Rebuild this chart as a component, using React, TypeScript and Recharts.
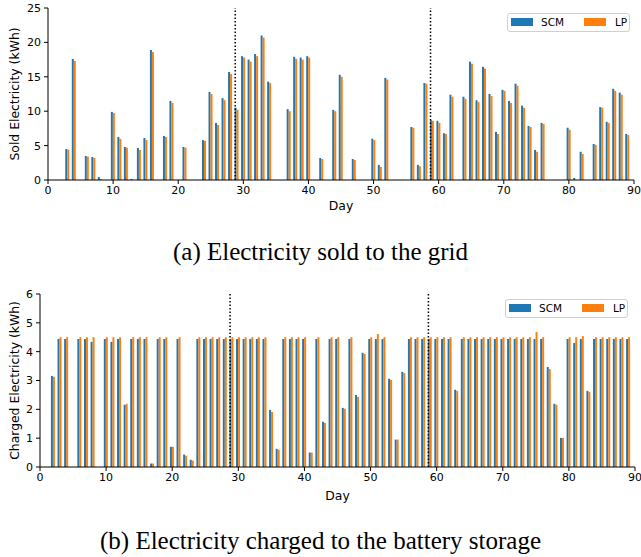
import React from "react";
import {
  BarChart,
  Bar,
  XAxis,
  YAxis,
  ReferenceLine,
} from "recharts";

// days 0..89
const days = [
  0, 1, 2, 3, 4, 5, 6, 7, 8, 9,
  10, 11, 12, 13, 14, 15, 16, 17, 18, 19,
  20, 21, 22, 23, 24, 25, 26, 27, 28, 29,
  30, 31, 32, 33, 34, 35, 36, 37, 38, 39,
  40, 41, 42, 43, 44, 45, 46, 47, 48, 49,
  50, 51, 52, 53, 54, 55, 56, 57, 58, 59,
  60, 61, 62, 63, 64, 65, 66, 67, 68, 69,
  70, 71, 72, 73, 74, 75, 76, 77, 78, 79,
  80, 81, 82, 83, 84, 85, 86, 87, 88, 89,
];

const soldSCM = [
  0, 0, 0, 4.5, 17.6, 0, 3.5, 3.35, 0.44, 0,
  9.9, 6.26, 4.8, 0.15, 4.66, 6.1, 18.9, 0, 6.4, 11.5,
  0, 4.8, 0, 0, 5.8, 12.8, 8.3, 11.9, 15.7, 10.5,
  18.0, 17.5, 18.3, 21.0, 14.3, 0, 0, 10.3, 17.9, 17.8,
  18.0, 0, 3.2, 0, 10.2, 15.3, 0, 3.05, 0, 0,
  6.0, 2.2, 14.85, 0, 0, 0, 7.7, 2.2, 14.1, 8.7,
  8.6, 6.8, 12.4, 0, 12.1, 17.2, 11.6, 16.45, 12.5, 7.0,
  13.1, 11.5, 14.0, 10.8, 7.86, 4.37, 8.3, 0, 0, 0,
  7.6, 0.3, 4.1, 0, 5.24, 10.6, 8.45, 13.25, 12.7, 6.7,
];

const soldLP = [
  0, 0, 0, 4.4, 17.3, 0, 3.4, 3.2, 0.15, 0,
  9.75, 5.97, 4.7, 0, 4.37, 5.8, 18.6, 0, 6.26, 11.2,
  0, 4.7, 0, 0, 5.7, 12.5, 8.0, 11.6, 15.4, 10.2,
  17.8, 17.2, 18.0, 20.7, 14.1, 0, 0, 10.0, 17.6, 17.5,
  17.8, 0, 3.05, 0, 10.0, 15.0, 0, 2.9, 0, 0,
  5.8, 1.9, 14.6, 0, 0, 0, 7.6, 2.0, 14.0, 8.6,
  8.3, 6.7, 12.1, 0, 11.8, 16.9, 11.35, 16.2, 12.2, 6.7,
  12.95, 11.2, 13.7, 10.5, 7.7, 4.1, 8.15, 0, 0, 0,
  7.3, 0, 3.8, 0, 5.1, 10.5, 8.3, 12.95, 12.4, 6.55,
];

const chargedSCM = [
  0, 0, 3.16, 4.44, 4.44, 0, 4.44, 4.44, 4.34, 0,
  4.44, 4.34, 4.44, 2.16, 4.44, 4.44, 4.44, 0.12, 4.44, 4.44,
  0.7, 4.44, 0.43, 0.25, 4.44, 4.44, 4.44, 4.44, 4.44, 4.44,
  4.44, 4.44, 4.44, 4.44, 4.44, 1.98, 0.63, 4.44, 4.44, 4.44,
  4.44, 0.5, 4.44, 1.57, 4.44, 4.44, 2.05, 4.44, 2.5, 3.96,
  4.44, 4.44, 4.44, 3.06, 0.95, 3.3, 4.44, 4.44, 4.44, 4.44,
  4.44, 4.44, 4.44, 2.68, 4.44, 4.44, 4.44, 4.44, 4.44, 4.44,
  4.44, 4.44, 4.44, 4.44, 4.44, 4.44, 4.44, 3.47, 2.19, 1.01,
  4.44, 4.3, 4.44, 2.64, 4.44, 4.44, 4.44, 4.44, 4.44, 4.44,
];

const chargedLP = [
  0, 0, 3.13, 4.5, 4.5, 0, 4.5, 4.5, 4.5, 0,
  4.5, 4.5, 4.5, 2.19, 4.5, 4.5, 4.5, 0.12, 4.5, 4.5,
  0.7, 4.5, 0.39, 0.22, 4.5, 4.5, 4.5, 4.5, 4.5, 4.5,
  4.5, 4.5, 4.5, 4.5, 4.5, 1.91, 0.6, 4.5, 4.5, 4.5,
  4.5, 0.5, 4.5, 1.53, 4.5, 4.5, 2.02, 4.5, 2.43, 3.92,
  4.5, 4.61, 4.5, 3.02, 0.95, 3.26, 4.5, 4.5, 4.5, 4.5,
  4.5, 4.5, 4.5, 2.64, 4.5, 4.5, 4.5, 4.5, 4.5, 4.5,
  4.5, 4.5, 4.5, 4.5, 4.5, 4.68, 4.5, 3.4, 2.16, 1.01,
  4.5, 4.5, 4.54, 2.6, 4.5, 4.5, 4.5, 4.5, 4.5, 4.5,
];

const xTicks = [0, 10, 20, 30, 40, 50, 60, 70, 80, 90];
const soldTicks = [0, 5, 10, 15, 20, 25];
const chargedTicks = [0, 1, 2, 3, 4, 5, 6];
const splitDays = [28.75, 58.75];

const soldData = days.map((d, i) => ({ day: d, scm: soldSCM[i], lp: soldLP[i] }));
const chargedData = days.map((d, i) => ({ day: d, scm: chargedSCM[i], lp: chargedLP[i] }));

const BLUE = "#1f77b4";
const ORANGE = "#ff7f0e";
const FONT = "DejaVu Sans";
const tickStyle = { fill: "#000", fontSize: 11, fontFamily: FONT };
const labelStyle = { fill: "#000", fontSize: 12.4, fontFamily: FONT };

function LegendBox({ top, left }: { top: number; left: number }) {
  return (
    <div
      style={{
        position: "absolute",
        top,
        left,
        width: 123,
        height: 19,
        border: "1px solid #d0d0d0",
        borderRadius: 3,
        background: "rgba(255,255,255,0.8)",
        fontFamily: FONT,
        fontSize: 10.5,
        color: "#000",
        boxSizing: "border-box",
      }}
    >
      <span style={{ position: "absolute", left: 3, top: 4, width: 22, height: 8, background: BLUE }} />
      <span style={{ position: "absolute", left: 33, top: 2, lineHeight: "13px" }}>SCM</span>
      <span style={{ position: "absolute", left: 76, top: 4, width: 22, height: 8, background: ORANGE }} />
      <span style={{ position: "absolute", left: 107, top: 2, lineHeight: "13px" }}>LP</span>
    </div>
  );
}

function Panel({
  data,
  ticks,
  max,
  yLabel,
  width,
  height,
  margin,
  yWidth,
  dayOffset,
}: {
  data: any[];
  ticks: number[];
  max: number;
  yLabel: string;
  width: number;
  height: number;
  margin: any;
  yWidth: number;
  dayOffset: number;
}) {
  return (
    <BarChart width={width} height={height} data={data} margin={margin} barGap={0}>
      <XAxis
        dataKey="day"
        type="number"
        domain={[0, 90]}
        ticks={xTicks}
        allowDataOverflow
        height={25}
        tickSize={4}
        tickMargin={2}
        tick={tickStyle}
        axisLine={{ stroke: "#000", strokeWidth: 1 }}
        tickLine={{ stroke: "#000" }}
        label={{
          value: "Day",
          position: "bottom",
          offset: dayOffset,
          fontSize: 12.4,
          fontFamily: FONT,
          fill: "#000",
          style: labelStyle,
        }}
      />
      <XAxis
        xAxisId="top"
        orientation="top"
        type="number"
        domain={[0, 90]}
        height={0}
        tick={false}
        tickLine={false}
        axisLine={{ stroke: "#333", strokeWidth: 1 }}
      />
      <YAxis
        type="number"
        domain={[0, max]}
        ticks={ticks}
        width={yWidth}
        tickSize={4}
        tickMargin={3}
        tick={tickStyle}
        axisLine={{ stroke: "#000", strokeWidth: 1 }}
        tickLine={{ stroke: "#000" }}
        label={{
          value: yLabel,
          angle: -90,
          position: "insideLeft",
          offset: 15,
          fontSize: 12.4,
          fontFamily: FONT,
          fill: "#000",
          style: { ...labelStyle, textAnchor: "middle" },
        }}
      />
      <YAxis
        yAxisId="right"
        orientation="right"
        domain={[0, 1]}
        width={0}
        tick={false}
        tickLine={false}
        axisLine={{ stroke: "#333", strokeWidth: 1 }}
      />
      {splitDays.map((d) => (
        <ReferenceLine key={d} x={d} stroke="#000" strokeWidth={1.5} strokeDasharray="1.5 2" />
      ))}
      <Bar dataKey="scm" fill={BLUE} barSize={2} isAnimationActive={false} />
      <Bar dataKey="lp" fill={ORANGE} barSize={2} isAnimationActive={false} />
    </BarChart>
  );
}

const captionStyle: React.CSSProperties = {
  position: "absolute",
  left: 0,
  width: 641,
  textAlign: "center",
  fontFamily: "Liberation Serif, Times New Roman, serif",
  fontSize: 25,
  color: "#000",
  lineHeight: "30px",
};

export default function App() {
  return (
    <div style={{ position: "absolute", left: 0, top: 0, width: 641, height: 557, background: "#fff", overflow: "hidden" }}>
      <div style={{ position: "absolute", left: 0, top: 0 }}>
        <Panel
          data={soldData}
          ticks={soldTicks}
          max={25}
          yLabel="Sold Electricity (kWh)"
          width={641}
          height={215}
          margin={{ top: 8, right: 7, left: 0, bottom: 10 }}
          yWidth={48}
          dayOffset={-4}
        />
      </div>
      <LegendBox top={13} left={507} />
      <div style={{ ...captionStyle, top: 237 }}>(a) Electricity sold to the grid</div>

      <div style={{ position: "absolute", left: 0, top: 275 }}>
        <Panel
          data={chargedData}
          ticks={chargedTicks}
          max={6}
          yLabel="Charged Electricity (kWh)"
          width={641}
          height={240}
          margin={{ top: 19, right: 6, left: 0, bottom: 23 }}
          yWidth={40}
          dayOffset={-1}
        />
      </div>
      <LegendBox top={299} left={505} />
      <div style={{ ...captionStyle, top: 526 }}>(b) Electricity charged to the battery storage</div>
    </div>
  );
}
